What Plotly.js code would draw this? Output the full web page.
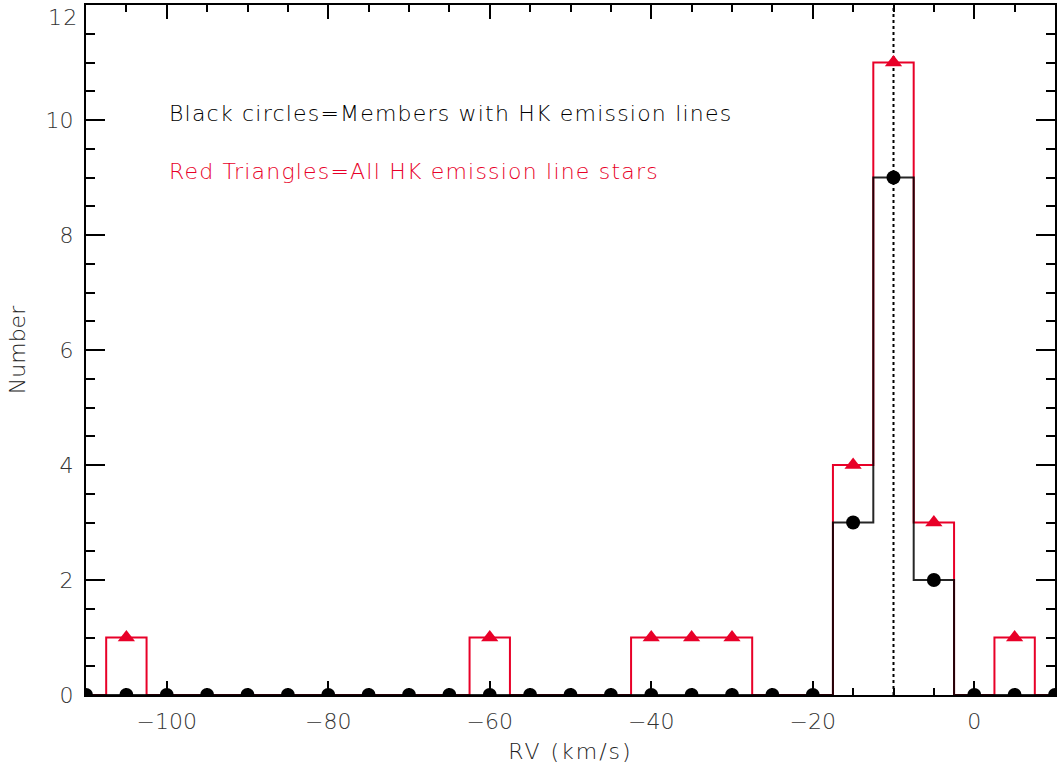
<!DOCTYPE html>
<html>
<head>
<meta charset="utf-8">
<script src="https://cdn.plot.ly/plotly-3.0.1.min.js"></script>
<style>
html,body{margin:0;padding:0;background:#fff;}
#chart{width:1057px;height:770px;}
.annotation-text{letter-spacing:1.2px;}
.xtitle{letter-spacing:2px;}
</style>
</head>
<body>
<div id="chart"></div>
<script>
// Bin centres (km/s), bin width 5
const binCenters = [-110,-105,-100,-95,-90,-85,-80,-75,-70,-65,-60,-55,-50,-45,-40,-35,-30,-25,-20,-15,-10,-5,0,5,10];
// Red triangles: all HK emission line stars
const allHK =      [0,1,0,0,0,0,0,0,0,0,1,0,0,0,1,1,1,0,0,4,11,3,0,1,0];
// Black circles: members with HK emission lines
const membersHK =  [0,0,0,0,0,0,0,0,0,0,0,0,0,0,0,0,0,0,0,3,9,2,0,0,0];
const rvMarker = -10;
const yTicks = [0, 2, 4, 6, 8, 10, 12];
const yMax = 12;
const label1 = "Black circles=Members with HK emission lines";
const label2 = "Red Triangles=All HK emission line stars";

const RED = "rgb(232,0,40)";
const FONT = "DejaVu Sans";

const triX = binCenters.filter((x,i)=>allHK[i]>0);
const triY = allHK.filter(v=>v>0);
// top label is drawn separately so it is not cut by the figure edge
const yTickText = yTicks.map(v => v === yMax ? "" : String(v));

const traces = [
  {x: binCenters, y: allHK, mode: "lines", line: {shape: "hvh", color: RED, width: 2}, hoverinfo: "skip"},
  {x: binCenters, y: membersHK, mode: "lines", line: {shape: "hvh", color: "rgba(0,0,0,0.85)", width: 2}, hoverinfo: "skip"},
  {x: [rvMarker, rvMarker], y: [0, yMax], mode: "lines", line: {color: "black", width: 2, dash: "dot"}, hoverinfo: "skip"},
  {x: triX, y: triY, mode: "markers", marker: {symbol: "triangle-up", color: RED, size: 15}},
  {x: binCenters, y: membersHK, mode: "markers", marker: {symbol: "circle", color: "black", size: 14}}
];

const layout = {
  width: 1057, height: 770,
  margin: {l: 86, r: 2, t: 5, b: 75},
  showlegend: false,
  plot_bgcolor: "#fff", paper_bgcolor: "#fff",
  font: {family: FONT, size: 22, color: "#222", weight: 200},
  xaxis: {
    range: [-110, 10], dtick: 20, tick0: 0,
    ticks: "inside", ticklen: 14, tickwidth: 2, tickcolor: "black",
    minor: {dtick: 5, ticklen: 7, tickwidth: 2, tickcolor: "black", ticks: "inside"},
    showline: true, linecolor: "black", linewidth: 2, mirror: "allticks",
    showgrid: false, zeroline: false,
    ticklabelstandoff: 6,
    title: {text: "RV (km/s)", font: {size: 22, color: "#222"}, standoff: 10},
    tickfont: {size: 22, color: "#333"}
  },
  yaxis: {
    range: [0, yMax + 0.0001], tickvals: yTicks, ticktext: yTickText,
    ticks: "inside", ticklen: 19, tickwidth: 2, tickcolor: "black",
    minor: {dtick: 0.5, ticklen: 9, tickwidth: 2, tickcolor: "black", ticks: "inside"},
    showline: true, linecolor: "black", linewidth: 2, mirror: "allticks",
    showgrid: false, zeroline: false,
    ticklabelstandoff: 6,
    title: {text: "Number", font: {size: 22, color: "#222"}, standoff: 14},
    tickfont: {size: 22, color: "#333"}
  },
  annotations: [
    {x: -100, y: 10.12, xref: "x", yref: "y", text: label1, showarrow: false, xanchor: "left", yanchor: "middle", font: {size: 22, color: "black", family: FONT, weight: 200}},
    {x: -100, y: 9.11, xref: "x", yref: "y", text: label2, showarrow: false, xanchor: "left", yanchor: "middle", font: {size: 22, color: RED, family: FONT, weight: 200}},
    {x: 0, y: yMax, xref: "paper", yref: "y", text: String(yMax), showarrow: false, xanchor: "right", yanchor: "top", xshift: -6, yshift: 2, font: {size: 22, color: "#333", family: FONT, weight: 200}}
  ]
};

Plotly.newPlot("chart", traces, layout, {displayModeBar: false, staticPlot: true});
</script>
</body>
</html>
